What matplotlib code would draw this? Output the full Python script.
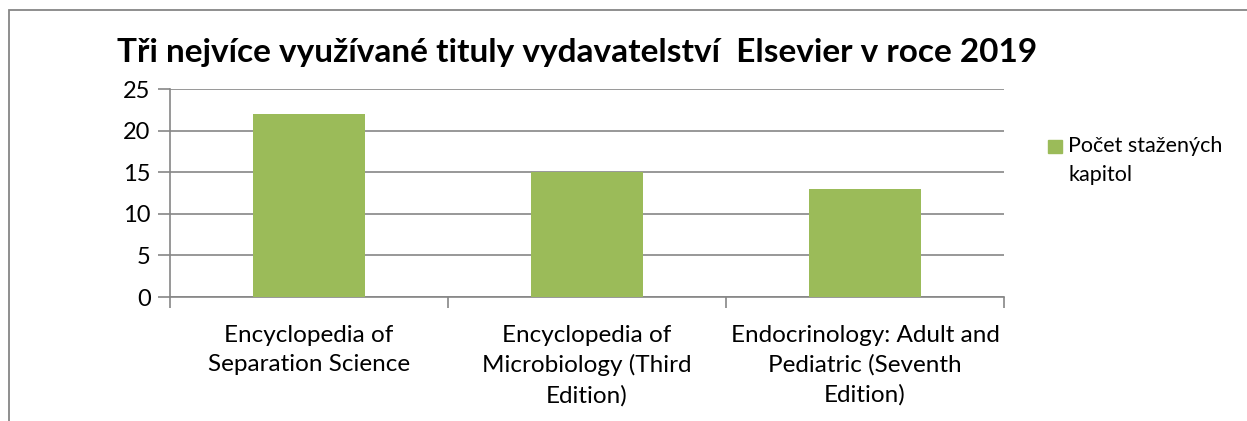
import matplotlib
matplotlib.use("Agg")
import matplotlib.pyplot as plt
from matplotlib.patches import Rectangle

# data
categories = [
    "Encyclopedia of\nSeparation Science",
    "Encyclopedia of\nMicrobiology (Third\nEdition)",
    "Endocrinology: Adult and\nPediatric (Seventh\nEdition)",
]
values = [22, 15, 13]
series_name = "Počet stažených\nkapitol"
title = "Tři nejvíce využívané tituly vydavatelství  Elsevier v roce 2019"
y_ticks = [0, 5, 10, 15, 20, 25]

plt.rcParams['font.family'] = ['Lato', 'DejaVu Sans']
green = "#9BBB59"
grid_gray = "#868686"

W, H = 1247, 421
fig = plt.figure(figsize=(W / 100, H / 100), dpi=100)

# outer chart border (Excel style)
fig.patches.append(Rectangle((9 / W, -0.1), 1.2, (H - 10) / H + 0.1,
                             transform=fig.transFigure, fill=False,
                             edgecolor=grid_gray, linewidth=1.3))

ax = fig.add_axes([170 / W, 1 - 297 / H, (1004 - 170) / W, (297 - 89) / H])

x = range(len(values))
ax.bar(x, values, width=0.4, color=green, zorder=3)

ax.set_xlim(-0.5, len(values) - 0.5)
ax.set_ylim(0, 25)
ax.set_yticks(y_ticks)
ax.set_yticklabels([str(v) for v in y_ticks], fontsize=17)
ax.yaxis.grid(True, color=grid_gray, linewidth=1.2, zorder=0)

# category ticks at boundaries, labels at centres
ax.set_xticks([i - 0.5 for i in range(len(values) + 1)])
ax.set_xticklabels([])
ax.set_xticks(list(x), minor=True)
ax.set_xticklabels(categories, minor=True, fontsize=17.5, linespacing=1.47,
                   va="top")
ax.tick_params(axis="x", which="minor", length=0, pad=20)
ax.tick_params(axis="x", which="major", length=8, width=1.2, color=grid_gray)
ax.tick_params(axis="y", length=9, width=1.2, color=grid_gray, pad=5)

for s in ["top", "right"]:
    ax.spines[s].set_visible(False)
for s in ["left", "bottom"]:
    ax.spines[s].set_color(grid_gray)
    ax.spines[s].set_linewidth(1.2)

fig.text(577 / W, 1 - 62 / H, title, ha="center", va="baseline",
         fontsize=24, fontweight="bold")

# legend: square key next to first line of the series name
fig.patches.append(Rectangle((1048 / W, 1 - 153 / H), 14 / W, 13 / H,
                             transform=fig.transFigure, color=green))
fig.text(1068 / W, 1 - 136 / H, series_name, ha="left", va="top",
         fontsize=15.5, linespacing=1.55)

fig.savefig("out.png", dpi=100)
